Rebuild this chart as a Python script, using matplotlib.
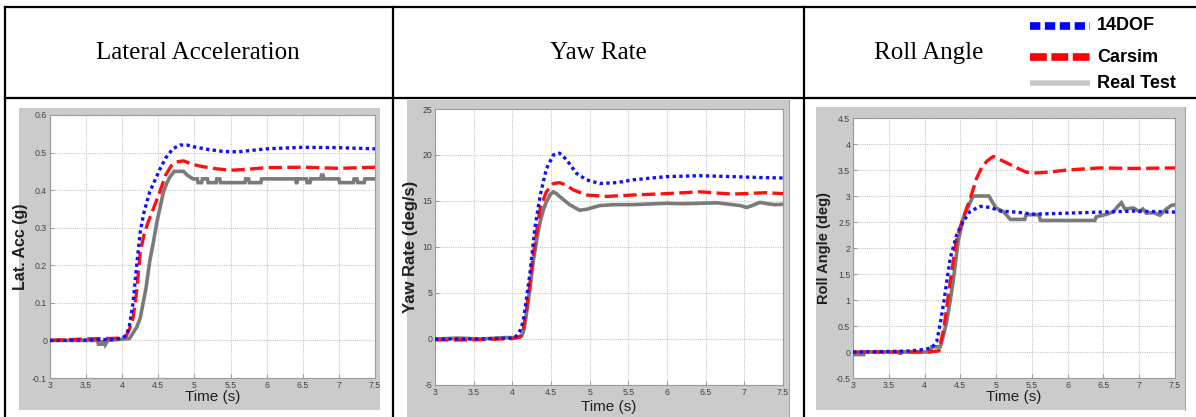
import matplotlib.pyplot as plt
from matplotlib.lines import Line2D
from matplotlib.patches import Rectangle

plt.rcParams['axes.unicode_minus'] = False

W, H = 1196, 417

headers = ['Lateral Acceleration', 'Yaw Rate', 'Roll Angle']
series_names = ['14DOF', 'Carsim', 'Real Test']
x_ticks = [3, 3.5, 4, 4.5, 5, 5.5, 6, 6.5, 7, 7.5]
x_tick_labels = ['3', '3.5', '4', '4.5', '5', '5.5', '6', '6.5', '7', '7.5']

# lateral acceleration (g)
lat_ticks = [-0.1, 0, 0.1, 0.2, 0.3, 0.4, 0.5, 0.6]
lat_tick_labels = ['-0.1', '0', '0.1', '0.2', '0.3', '0.4', '0.5', '0.6']
lat_t_dof = [3.0, 3.5, 3.9, 4.0, 4.06, 4.1, 4.15, 4.2, 4.25, 4.3, 4.38, 4.45, 4.52, 4.6,
             4.7, 4.8, 4.9, 5.0, 5.2, 5.4, 5.6, 5.8, 6.0, 6.5, 7.0, 7.5]
lat_dof = [0.0, 0.001, 0.003, 0.006, 0.015, 0.04, 0.10, 0.20, 0.29, 0.34, 0.395, 0.425,
           0.455, 0.485, 0.51, 0.52, 0.52, 0.515, 0.508, 0.503, 0.502, 0.506, 0.51, 0.514,
           0.513, 0.51]
lat_t_car = [3.0, 3.5, 4.0, 4.05, 4.1, 4.15, 4.2, 4.25, 4.3, 4.35, 4.43, 4.52, 4.6, 4.68,
             4.75, 4.85, 4.95, 5.1, 5.3, 5.5, 5.7, 6.0, 6.5, 7.0, 7.5]
lat_car = [0.0, 0.004, 0.006, 0.01, 0.03, 0.06, 0.13, 0.235, 0.28, 0.31, 0.35, 0.395, 0.44,
           0.465, 0.475, 0.478, 0.47, 0.463, 0.457, 0.453, 0.455, 0.46, 0.461, 0.458, 0.461]
lat_t_real = [3.0, 3.66, 3.67, 3.7, 3.71, 3.72, 3.75, 3.76, 3.77, 3.8, 4.1, 4.15, 4.2, 4.25,
              4.29, 4.33, 4.38, 4.43, 4.48, 4.52, 4.57, 4.62, 4.66, 4.72, 4.85, 4.9, 4.98,
              5.04, 5.05, 5.1, 5.11, 5.18, 5.19, 5.3, 5.31, 5.35, 5.36, 5.7, 5.71, 5.75,
              5.76, 5.92, 5.93, 6.4, 6.41, 6.42, 6.43, 6.55, 6.56, 6.6, 6.61, 6.75, 6.76,
              6.78, 6.79, 6.92, 7.0, 7.01, 7.2, 7.21, 7.25, 7.26, 7.35, 7.36, 7.5]
lat_real = [0.0, 0.0, -0.01, -0.01, 0.0, -0.01, -0.01, 0.0, -0.01, 0.0, 0.005, 0.02, 0.035,
            0.06, 0.10, 0.14, 0.21, 0.26, 0.315, 0.35, 0.395, 0.42, 0.435, 0.45, 0.45, 0.44,
            0.43, 0.43, 0.42, 0.42, 0.43, 0.43, 0.42, 0.42, 0.43, 0.43, 0.42, 0.42, 0.43,
            0.43, 0.42, 0.42, 0.43, 0.43, 0.42, 0.42, 0.43, 0.43, 0.42, 0.42, 0.43, 0.43,
            0.44, 0.44, 0.43, 0.43, 0.43, 0.42, 0.42, 0.43, 0.43, 0.42, 0.42, 0.43, 0.43]

# yaw rate (deg/s)
yaw_ticks = [-5, 0, 5, 10, 15, 20, 25]
yaw_tick_labels = ['-5', '0', '5', '10', '15', '20', '25']
yaw_t_dof = [3.0, 3.5, 4.0, 4.05, 4.1, 4.14, 4.18, 4.23, 4.29, 4.36, 4.44, 4.53, 4.61, 4.7,
             4.83, 4.96, 5.13, 5.35, 5.56, 5.8, 6.0, 6.42, 6.85, 7.2, 7.5]
yaw_dof = [0.0, 0.0, 0.1, 0.3, 0.9, 1.9, 4.2, 7.3, 12.0, 15.6, 18.5, 20.0, 20.2, 19.5, 18.0,
           17.3, 16.9, 17.0, 17.3, 17.5, 17.65, 17.75, 17.65, 17.55, 17.5]
yaw_t_car = [3.0, 3.5, 4.0, 4.1, 4.14, 4.18, 4.22, 4.27, 4.32, 4.36, 4.44, 4.53, 4.61, 4.7,
             4.79, 4.96, 5.22, 5.56, 5.99, 6.42, 6.85, 7.28, 7.5]
yaw_car = [-0.1, -0.1, 0.05, 0.2, 1.0, 3.0, 5.5, 9.1, 12.0, 14.2, 16.0, 16.9, 17.0, 16.7,
           16.2, 15.65, 15.5, 15.65, 15.8, 16.0, 15.75, 15.9, 15.8]
yaw_t_real = [3.0, 3.3, 3.6, 3.9, 4.05, 4.12, 4.15, 4.18, 4.22, 4.27, 4.32, 4.36, 4.4, 4.44,
              4.49, 4.53, 4.57, 4.61, 4.74, 4.87, 4.96, 5.13, 5.3, 5.56, 5.99, 6.2, 6.42,
              6.65, 6.85, 6.95, 7.03, 7.1, 7.2, 7.3, 7.4, 7.5]
yaw_real = [0.0, 0.1, 0.0, 0.15, 0.15, 0.3, 1.0, 2.6, 5.0, 8.4, 11.0, 12.75, 14.0, 14.9,
            15.7, 16.0, 15.8, 15.5, 14.6, 14.0, 14.1, 14.5, 14.6, 14.6, 14.75, 14.7, 14.75,
            14.8, 14.6, 14.5, 14.3, 14.5, 14.85, 14.7, 14.6, 14.65]

# roll angle (deg)
roll_ticks = [-0.5, 0, 0.5, 1, 1.5, 2, 2.5, 3, 3.5, 4, 4.5]
roll_tick_labels = ['-0.5', '0', '0.5', '1', '1.5', '2', '2.5', '3', '3.5', '4', '4.5']
roll_t_dof = [3.0, 3.5, 3.8, 4.0, 4.1, 4.17, 4.22, 4.27, 4.32, 4.36, 4.45, 4.54, 4.64, 4.78,
              4.92, 5.06, 5.29, 5.52, 5.99, 6.45, 6.92, 7.5]
roll_dof = [0.0, 0.01, 0.02, 0.05, 0.08, 0.2, 0.55, 0.97, 1.45, 1.81, 2.26, 2.51, 2.71, 2.8,
            2.78, 2.71, 2.69, 2.65, 2.67, 2.69, 2.71, 2.69]
roll_t_car = [3.0, 4.0, 4.2, 4.27, 4.36, 4.45, 4.54, 4.64, 4.73, 4.8, 4.87, 4.96, 5.1, 5.29,
              5.42, 5.52, 5.75, 5.99, 6.45, 6.92, 7.5]
roll_car = [0.0, 0.0, 0.02, 0.46, 1.36, 2.19, 2.58, 2.96, 3.35, 3.55, 3.67, 3.76, 3.67, 3.54,
            3.46, 3.44, 3.46, 3.5, 3.54, 3.53, 3.54]
roll_t_real = [3.0, 3.15, 3.16, 3.65, 3.66, 3.67, 4.08, 4.1, 4.22, 4.26, 4.31, 4.36, 4.4,
               4.47, 4.54, 4.61, 4.68, 4.9, 4.94, 5.0, 5.1, 5.2, 5.4, 5.42, 5.6, 5.62, 6.38,
               6.4, 6.55, 6.64, 6.7, 6.75, 6.8, 6.92, 7.0, 7.05, 7.1, 7.2, 7.29, 7.38, 7.45, 7.5]
roll_real = [-0.05, -0.05, 0.0, 0.0, -0.05, 0.0, 0.0, 0.1, 0.1, 0.3, 0.59, 1.0, 1.36, 2.13,
             2.58, 2.8, 3.0, 3.0, 2.9, 2.77, 2.7, 2.55, 2.55, 2.64, 2.64, 2.53, 2.53, 2.6,
             2.65, 2.7, 2.8, 2.87, 2.75, 2.77, 2.7, 2.75, 2.67, 2.68, 2.63, 2.75, 2.82, 2.83]


def fbox(x0, y0, x1, y1):
    # pixel box (top-left origin) -> figure fraction
    return [x0 / W, 1 - y1 / H, (x1 - x0) / W, (y1 - y0) / H]


fig = plt.figure(figsize=(W / 100, H / 100), dpi=100)
fig.patch.set_facecolor('white')

# table rules
tl = dict(color='black', lw=1.6, transform=fig.transFigure)
fig.add_artist(Line2D([5 / W, 1], [1 - 7 / H, 1 - 7 / H], **tl))
fig.add_artist(Line2D([5 / W, 1], [1 - 98 / H, 1 - 98 / H], **tl))
for xv in [5, 393, 804]:
    fig.add_artist(Line2D([xv / W, xv / W], [0, 1 - 7 / H], **tl))

# header texts
for txt, xc in zip(headers, [198, 598, 929]):
    fig.text(xc / W, 1 - 53 / H, txt, ha='center', va='center', fontsize=18,
             family=['Liberation Serif', 'DejaVu Serif'])

# legend in the header cell
leg_styles = [
    dict(color='#0000ff', lw=5.5, linestyle=(0, (1.35, 0.6)), dash_capstyle='butt'),
    dict(color='#ff0000', lw=5.5, linestyle=(0, (2.2, 0.6)), dash_capstyle='butt'),
    dict(color='#c8c8c8', lw=4.0, linestyle='-', solid_capstyle='butt'),
]
for name, st, yc in zip(series_names, leg_styles, [26, 57, 83]):
    fig.add_artist(Line2D([1030 / W, 1090 / W], [1 - yc / H, 1 - yc / H],
                          transform=fig.transFigure, **st))
    fig.text(1097 / W, 1 - yc / H, name, ha='left', va='center', fontsize=13,
             fontweight='bold', family=['Liberation Sans', 'DejaVu Sans'])

panels = [
    dict(bg=(19, 108, 380, 410), ax=(50, 115, 375, 378), ylim=(-0.1, 0.6),
         yt=lat_ticks, ytl=lat_tick_labels, ylabel='Lat. Acc (g)', ylsize=11.5,
         dof=(lat_t_dof, lat_dof), car=(lat_t_car, lat_car), real=(lat_t_real, lat_real),
         edge=False, xpad=0),
    dict(bg=(407, 100, 789, 417), ax=(435, 109, 783, 385), ylim=(-5, 25),
         yt=yaw_ticks, ytl=yaw_tick_labels, ylabel='Yaw Rate (deg/s)', ylsize=12,
         dof=(yaw_t_dof, yaw_dof), car=(yaw_t_car, yaw_car), real=(yaw_t_real, yaw_real),
         edge=True, xpad=2),
    dict(bg=(816, 107, 1185, 410), ax=(853, 118, 1175, 378), ylim=(-0.5, 4.5),
         yt=roll_ticks, ytl=roll_tick_labels, ylabel='Roll Angle (deg)', ylsize=10.5,
         dof=(roll_t_dof, roll_dof), car=(roll_t_car, roll_car),
         real=(roll_t_real, roll_real), edge=True, xpad=0),
]

sans = ['Liberation Sans', 'DejaVu Sans']

for p in panels:
    x0, y0, x1, y1 = p['bg']
    fig.add_artist(Rectangle((x0 / W, 1 - y1 / H), (x1 - x0) / W, (y1 - y0) / H,
                             transform=fig.transFigure, facecolor='#cbcbcb',
                             edgecolor='none', zorder=-1))
    if p['edge']:
        fig.add_artist(Line2D([x1 / W, x1 / W], [1 - y1 / H, 1 - y0 / H],
                              transform=fig.transFigure, color='#e09090', lw=0.8))

    ax = fig.add_axes(fbox(*p['ax']))
    ax.set_facecolor('white')
    ax.plot(*p['real'], color='#7a7a7a', lw=2.6, solid_joinstyle='miter', zorder=3)
    ax.plot(*p['car'], color='#ff1010', lw=2.4, linestyle=(0, (4.0, 1.6)), zorder=4)
    ax.plot(*p['dof'], color='#1010ff', lw=2.4, linestyle=(0, (1.0, 1.0)), zorder=5)

    ax.set_xlim(3, 7.5)
    ax.set_ylim(*p['ylim'])
    ax.set_xticks(x_ticks)
    ax.set_xticklabels(x_tick_labels)
    ax.set_yticks(p['yt'])
    ax.set_yticklabels(p['ytl'])
    ax.grid(True, color='#c8c8c8', linestyle=(0, (1, 1)), lw=0.8)
    ax.tick_params(direction='in', length=3, width=0.6, color='#8a8a8a',
                   labelsize=6.3, labelcolor='#444444', pad=2)
    for lab in ax.get_xticklabels() + ax.get_yticklabels():
        lab.set_family(sans)
    for s in ax.spines.values():
        s.set_color('#9a9a9a')
        s.set_linewidth(0.8)
    ax.set_xlabel('Time (s)', fontsize=11, family=sans, color='#202020',
                  labelpad=p['xpad'])
    ax.set_ylabel(p['ylabel'], fontsize=p['ylsize'], fontweight='bold', family=sans,
                  color='#202020', labelpad=3)

fig.savefig('out.png', dpi=100, facecolor='white')
